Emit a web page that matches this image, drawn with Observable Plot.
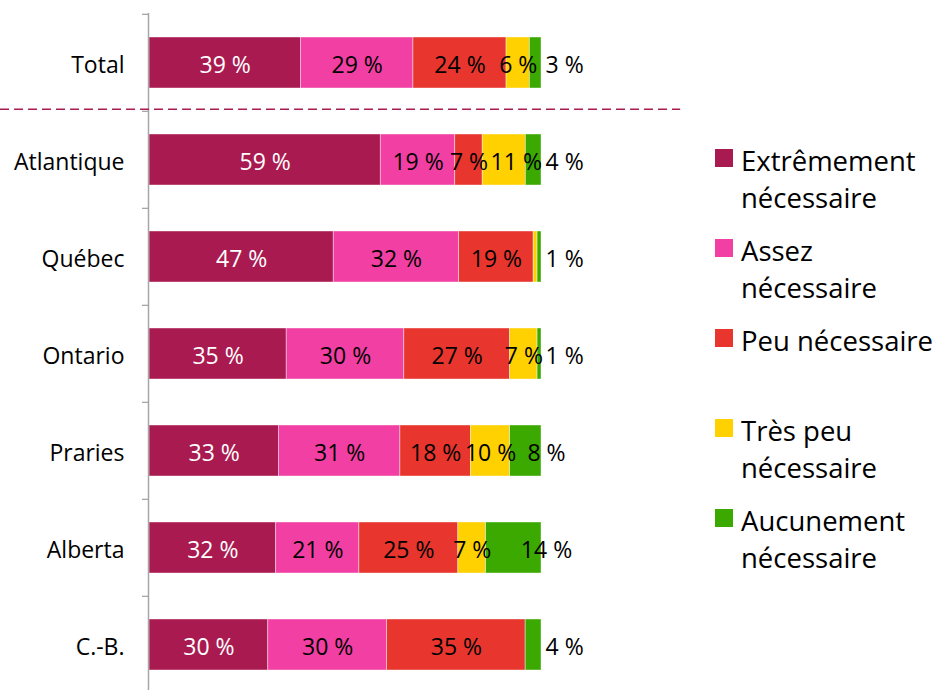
<!DOCTYPE html>
<html>
<head>
<meta charset="utf-8">
<script src="https://cdn.jsdelivr.net/npm/d3@7"></script>
<script src="https://cdn.jsdelivr.net/npm/@observablehq/plot@0.6"></script>
<style>
  html, body { margin: 0; padding: 0; background: white; }
  #wrap { position: relative; width: 936px; height: 690px; font-family: "Open Sans", sans-serif; }
  #legend { position: absolute; left: 715px; top: 142px; }
  .item { position: relative; height: 90px; padding-left: 26px; font-size: 27.5px; line-height: 37px; color: black; white-space: nowrap; }
  .sw { position: absolute; left: 0; top: 7px; width: 18px; height: 18px; }
</style>
</head>
<body>
<div id="wrap"><div id="chart"></div><div id="legend"></div></div>
<script>
const regions = ["Total", "Atlantique", "Québec", "Ontario", "Praries", "Alberta", "C.-B."];
const categories = ["Extrêmement nécessaire", "Assez nécessaire", "Peu nécessaire", "Très peu nécessaire", "Aucunement nécessaire"];
const legendLines = [["Extrêmement", "nécessaire"], ["Assez", "nécessaire"], ["Peu nécessaire"], ["Très peu", "nécessaire"], ["Aucunement", "nécessaire"]];
const colors = ["#A91B50", "#F23FA3", "#E8362E", "#FFD100", "#3BA900"];

const extremement = [39, 59, 47, 35, 33, 32, 30];
const assez       = [29, 19, 32, 30, 31, 21, 30];
const peu         = [24,  7, 19, 27, 18, 25, 35];
const tresPeu     = [ 6, 11,  1,  7, 10,  7,  0];
const aucunement  = [ 3,  4,  1,  1,  8, 14,  4];
const series = [extremement, assez, peu, tresPeu, aucunement];

const data = regions.flatMap((r, i) => categories.map((c, j) => ({
  region: r, cat: c, value: series[j][i], prev: j > 0 ? series[j - 1][i] : null
})));
const last = categories[categories.length - 1];
const fmt = v => `${v} %`;

const yTop = 13, yBottom = 694;
const step = (yBottom - yTop) / regions.length;
const stackOpts = {x: "value", y: "region", z: "cat", order: categories, offset: "normalize"};
const inside = d => d.cat !== last && d.value >= 2;
// labels squeezed after a narrow neighbour are nudged right (as in the original)
const nudged = d => d.prev !== null && d.prev < 8;

const chart = Plot.plot({
  width: 936,
  height: 690,
  marginLeft: 149,
  marginRight: 395,
  marginTop: 13,
  marginBottom: 0,
  style: {fontFamily: "Open Sans, sans-serif", fontSize: "23px", color: "black", background: "white", overflow: "visible"},
  x: {domain: [0, 1], axis: null},
  y: {domain: regions, range: [yTop, yBottom], paddingInner: 0.476, paddingOuter: 0.238, label: null},
  color: {domain: categories, range: colors},
  marks: [
    Plot.barX(data, Plot.stackX({...stackOpts, fill: "cat", stroke: "white", strokeWidth: 0.7, strokeOpacity: 0.6})),
    Plot.text(data, Plot.stackX({...stackOpts,
      text: d => (inside(d) && !nudged(d)) ? fmt(d.value) : "",
      fill: d => d.cat === categories[0] ? "white" : "black",
      dy: 3, fontSize: 23})),
    Plot.text(data, Plot.stackX({...stackOpts,
      text: d => (inside(d) && nudged(d)) ? fmt(d.value) : "",
      fill: "black", dx: 12, dy: 3, fontSize: 23})),
    Plot.text(data, Plot.stackX2({...stackOpts,
      text: d => (d.cat === last && d.value < 8) ? fmt(d.value) : "",
      textAnchor: "start", dx: 4, dy: 3, fill: "black", fontSize: 23})),
    Plot.text(data, Plot.stackX2({...stackOpts,
      text: d => (d.cat === last && d.value >= 8) ? fmt(d.value) : "",
      textAnchor: "middle", dx: 5, dy: 3, fill: "black", fontSize: 23})),
    Plot.ruleX([0], {stroke: "#a6a6a6", strokeWidth: 1.5, dx: -1}),
    Plot.axisY({tickSize: 6, tickFormat: () => "", dy: -step / 2, dx: -1, stroke: "#a6a6a6", strokeWidth: 1.3}),
    Plot.axisY({tickSize: 0, tickPadding: 25, fontSize: 23, fill: "black", dy: 3}),
    Plot.ruleY([regions[1]], {dy: -step / 2 - 2, x1: -0.38, x2: 1.355, stroke: "#A91B50", strokeWidth: 1.5, strokeDasharray: "9,5", clip: false})
  ]
});
document.getElementById("chart").appendChild(chart);

const legend = document.getElementById("legend");
categories.forEach((c, i) => {
  const item = document.createElement("div");
  item.className = "item";
  const sw = document.createElement("div");
  sw.className = "sw";
  sw.style.background = colors[i];
  item.appendChild(sw);
  legendLines[i].forEach(line => {
    const l = document.createElement("div");
    l.textContent = line;
    item.appendChild(l);
  });
  legend.appendChild(item);
});
</script>
</body>
</html>
